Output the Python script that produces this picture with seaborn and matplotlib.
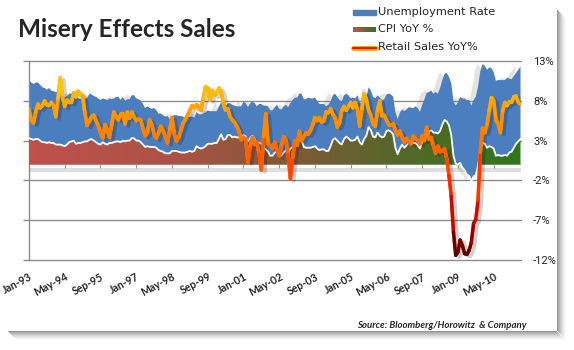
import matplotlib
matplotlib.use("Agg")
import matplotlib.pyplot as plt
import matplotlib.patheffects as pe
from matplotlib.collections import LineCollection
from matplotlib.colors import LinearSegmentedColormap
from matplotlib.lines import Line2D
from matplotlib.patches import Rectangle
import seaborn as sns
import numpy as np
import pandas as pd

# monthly values, Jan-93 .. May-11
unemployment = [
    7.3, 7.1, 7.0, 7.1, 7.1, 7.0, 6.9, 6.8, 6.7, 6.8, 6.6, 6.5,
    6.6, 6.6, 6.5, 6.4, 6.1, 6.1, 6.1, 6.0, 5.9, 5.8, 5.6, 5.5,
    5.6, 5.4, 5.4, 5.8, 5.6, 5.6, 5.7, 5.7, 5.6, 5.5, 5.6, 5.6,
    5.6, 5.5, 5.5, 5.6, 5.6, 5.3, 5.5, 5.1, 5.2, 5.2, 5.4, 5.4,
    5.3, 5.2, 5.2, 5.1, 4.9, 5.0, 4.9, 4.8, 4.9, 4.7, 4.6, 4.7,
    4.6, 4.6, 4.7, 4.3, 4.4, 4.5, 4.5, 4.5, 4.6, 4.5, 4.4, 4.4,
    4.3, 4.4, 4.2, 4.3, 4.2, 4.3, 4.3, 4.2, 4.2, 4.1, 4.1, 4.0,
    4.0, 4.1, 4.0, 3.8, 4.0, 4.0, 4.0, 4.1, 3.9, 3.9, 3.9, 3.9,
    4.2, 4.2, 4.3, 4.4, 4.3, 4.5, 4.6, 4.9, 5.0, 5.3, 5.5, 5.7,
    5.7, 5.7, 5.7, 5.9, 5.8, 5.8, 5.8, 5.7, 5.7, 5.7, 5.9, 6.0,
    5.8, 5.9, 5.9, 6.0, 6.1, 6.3, 6.2, 6.1, 6.1, 6.0, 5.8, 5.7,
    5.7, 5.6, 5.8, 5.6, 5.6, 5.6, 5.5, 5.4, 5.4, 5.5, 5.4, 5.4,
    5.3, 5.4, 5.2, 5.2, 5.1, 5.0, 5.0, 4.9, 5.0, 5.0, 5.0, 4.9,
    4.7, 4.8, 4.7, 4.7, 4.6, 4.6, 4.7, 4.7, 4.5, 4.4, 4.5, 4.4,
    4.6, 4.5, 4.4, 4.5, 4.4, 4.6, 4.7, 4.6, 4.7, 4.7, 4.7, 5.0,
    5.0, 4.9, 5.1, 5.0, 5.4, 5.6, 5.8, 6.1, 6.1, 6.5, 6.8, 7.3,
    7.8, 8.3, 8.7, 9.0, 9.4, 9.5, 9.5, 9.6, 9.8, 10.0, 9.9, 9.9,
    9.8, 9.8, 9.9, 9.9, 9.6, 9.4, 9.4, 9.5, 9.5, 9.4, 9.8, 9.3,
    9.1, 9.0, 8.9, 9.0, 9.1,
]
cpi_yoy = [
    3.3, 3.2, 3.1, 3.2, 3.2, 3.0, 2.8, 2.8, 2.7, 2.8, 2.7, 2.7,
    2.5, 2.5, 2.5, 2.4, 2.3, 2.5, 2.8, 2.9, 3.0, 2.6, 2.7, 2.7,
    2.8, 2.9, 2.9, 3.1, 3.2, 3.0, 2.8, 2.6, 2.5, 2.8, 2.6, 2.5,
    2.7, 2.7, 2.8, 2.9, 2.9, 2.8, 3.0, 2.9, 3.0, 3.0, 3.3, 3.3,
    3.0, 3.0, 2.8, 2.5, 2.2, 2.3, 2.2, 2.2, 2.2, 2.1, 1.8, 1.7,
    1.6, 1.4, 1.4, 1.4, 1.7, 1.7, 1.7, 1.6, 1.5, 1.5, 1.5, 1.6,
    1.7, 1.6, 1.7, 2.3, 2.1, 2.0, 2.1, 2.3, 2.6, 2.6, 2.6, 2.7,
    2.7, 3.2, 3.8, 3.1, 3.2, 3.7, 3.7, 3.4, 3.5, 3.4, 3.4, 3.4,
    3.7, 3.5, 2.9, 3.3, 3.6, 3.2, 2.7, 2.7, 2.6, 2.1, 1.9, 1.6,
    1.1, 1.1, 1.5, 1.6, 1.2, 1.1, 1.5, 1.8, 1.5, 2.0, 2.2, 2.4,
    2.6, 3.0, 3.0, 2.2, 2.1, 2.1, 2.1, 2.2, 2.3, 2.0, 1.8, 1.9,
    1.9, 1.7, 1.7, 2.3, 3.1, 3.3, 3.0, 2.7, 2.5, 3.2, 3.5, 3.3,
    3.0, 3.0, 3.1, 3.5, 2.8, 2.5, 3.2, 3.6, 4.7, 4.3, 3.5, 3.4,
    4.0, 3.6, 3.4, 3.5, 4.2, 4.3, 4.1, 3.8, 2.1, 1.3, 2.0, 2.5,
    2.1, 2.4, 2.8, 2.6, 2.7, 2.7, 2.4, 2.0, 2.8, 3.5, 4.3, 4.1,
    4.3, 4.0, 4.0, 3.9, 4.2, 5.0, 5.6, 5.4, 4.9, 3.7, 1.1, 0.1,
    0.0, 0.2, -0.4, -0.7, -1.3, -1.4, -2.1, -1.5, -1.3, -0.2, 1.8, 2.7,
    2.6, 2.1, 2.3, 2.2, 2.0, 1.1, 1.2, 1.1, 1.1, 1.2, 1.1, 1.5,
    1.6, 2.1, 2.6, 2.9, 3.2,
]
retail_yoy = [
    7.0, 5.6, 5.2, 6.6, 7.6, 7.1, 7.4, 8.0, 7.5, 7.5, 7.8, 7.4,
    6.0, 8.3, 10.9, 8.4, 7.3, 8.1, 7.8, 7.8, 9.0, 8.5, 9.2, 8.8,
    8.6, 6.5, 4.9, 5.4, 6.0, 6.2, 5.5, 4.9, 4.0, 3.3, 5.0, 4.4,
    3.4, 5.0, 6.6, 6.0, 5.6, 6.3, 6.4, 5.1, 6.6, 5.8, 6.6, 6.0,
    5.5, 5.7, 5.6, 4.5, 3.6, 4.0, 5.6, 5.0, 3.8, 3.3, 4.0, 4.8,
    4.3, 3.5, 2.7, 4.4, 5.9, 3.9, 2.9, 3.4, 4.3, 5.2, 5.7, 6.2,
    6.8, 7.4, 7.1, 7.5, 7.2, 6.8, 8.3, 9.8, 9.6, 8.1, 9.3, 8.7,
    9.0, 9.6, 9.1, 7.7, 6.8, 7.0, 6.0, 5.6, 5.3, 4.8, 4.2, 3.1,
    3.4, 3.2, 0.3, 2.3, 3.4, 2.5, 2.8, 1.3, -0.7, 3.5, 6.4, 2.6,
    2.4, 2.0, 2.8, 1.8, 1.1, 2.4, 3.5, 3.1, 1.2, -1.8, 0.9, 3.0,
    2.4, 4.2, 3.0, 3.5, 4.0, 3.8, 4.3, 5.0, 5.9, 5.5, 5.9, 5.3,
    5.5, 6.6, 6.5, 7.0, 6.3, 5.9, 4.7, 5.2, 6.8, 7.3, 6.8, 7.3,
    7.8, 7.1, 7.8, 6.9, 4.8, 7.0, 8.9, 8.2, 6.8, 6.2, 5.1, 4.8,
    6.8, 8.0, 6.1, 6.2, 5.6, 5.0, 4.9, 5.1, 4.3, 3.7, 4.2, 3.4,
    2.8, 3.3, 2.8, 2.6, 3.6, 3.3, 3.0, 2.6, 3.6, 3.0, 4.7, 3.2,
    3.4, 2.4, 1.4, 2.3, 1.6, 1.7, 2.0, 0.7, -1.4, -4.0, -8.5, -11.4,
    -11.0, -9.5, -10.2, -11.2, -11.3, -10.8, -9.8, -7.4, -6.9, -4.5, 1.5, 4.6,
    4.0, 5.0, 6.8, 8.4, 8.0, 5.6, 5.1, 4.0, 6.7, 7.8, 7.4, 7.9,
    7.8, 8.5, 8.6, 7.8, 7.6,
]

tick_labels = ["Jan-93", "May-94", "Sep-95", "Jan-97", "May-98", "Sep-99", "Jan-01",
               "May-02", "Sep-03", "Jan-05", "May-06", "Sep-07", "Jan-09", "May-10"]
y_ticks = [13, 8, 3, -2, -7, -12]
legend_labels = ["Unemployment Rate", "CPI YoY %", "Retail Sales YoY%"]

df = pd.DataFrame({"unemp": unemployment, "cpi": cpi_yoy, "retail": retail_yoy})
df["month"] = np.arange(len(df))
df["stack"] = df["cpi"] + df["unemp"]

sns.set_style("white")
plt.rcParams["font.family"] = ["DejaVu Sans"]

W, H = 574, 350
fig = plt.figure(figsize=(W / 100, H / 100), dpi=100)
ax = fig.add_axes([29 / W, 1 - 260 / H, 491.5 / W, 199 / H])

blue = "#4a7ebf"
grid_c = "#8c8c8c"
cpi_cmap = LinearSegmentedColormap.from_list("cpi", [
    (0.0, "#c0504d"), (0.3, "#a95345"), (0.5, "#875837"),
    (0.7, "#5f642d"), (0.85, "#466e23"), (1.0, "#30781c")])
retail_cmap = LinearSegmentedColormap.from_list("retail", [
    (0.0, "#500000"), (2 / 24, "#700000"), (5 / 24, "#c00000"), (9 / 24, "#ff2000"),
    (12 / 24, "#ff4800"), (15 / 24, "#ff7400"), (18 / 24, "#ff9400"),
    (20 / 24, "#ffac00"), (22 / 24, "#ffcc00"), (1.0, "#ffe030")])

# floor of the area
tick_pos = np.arange(0, len(df), 16)
ax.axhline(0, color="#b4b4b4", lw=0.8, zorder=1)
ax.fill_between(df["month"], -1.0, -0.5, color="#dedede", lw=0, zorder=1)
ax.vlines(tick_pos, -0.5, 0, color="#9a9a9a", lw=0.8, zorder=1)

# unemployment stacked on top of cpi
ax.fill_between(df["month"], df["cpi"], df["stack"], color=blue, lw=0, zorder=2,
                path_effects=[pe.SimplePatchShadow(offset=(-4, 0), shadow_rgbFace="#808080", alpha=0.22),
                              pe.Normal()])

# cpi area with left-to-right gradient
cpi_poly = ax.fill_between(df["month"], 0, df["cpi"].clip(lower=0), color="none", lw=0)
img = ax.imshow(np.linspace(0, 1, 256)[None, :], cmap=cpi_cmap, aspect="auto",
                extent=(0, df["month"].iloc[-1], -12, 13), zorder=3)
img.set_clip_path(cpi_poly.get_paths()[0], ax.transData)
sns.lineplot(data=df, x="month", y="cpi", ax=ax, color="white", lw=1.3, zorder=4)

# retail sales line, value-coloured
sns.lineplot(data=df, x="month", y="retail", ax=ax, color="#ff8c00", lw=2.5, zorder=5,
             path_effects=[pe.SimpleLineShadow(offset=(2.5, -1.5), shadow_color="k", alpha=0.18),
                           pe.Normal()])
pts = df[["month", "retail"]].to_numpy(dtype=float)
segs = np.stack([pts[:-1], pts[1:]], axis=1)
lc = LineCollection(segs, cmap=retail_cmap, norm=plt.Normalize(-12, 12), lw=2.5,
                    zorder=6, capstyle="round")
lc.set_array((pts[:-1, 1] + pts[1:, 1]) / 2)
ax.add_collection(lc)

ax.set_xlim(0, df["month"].iloc[-1])
ax.set_ylim(-12, 13)
ax.set_xlabel("")
ax.set_ylabel("")
ax.set_yticks(y_ticks)
ax.set_yticklabels([f"{v}%" for v in y_ticks], family="Roboto", fontsize=8)
ax.set_xticks(tick_pos)
ax.set_xticklabels(tick_labels, rotation=28, ha="right", va="top", rotation_mode="anchor",
                   fontsize=7.6, fontweight="bold", family="Lato")
ax.grid(axis="y", color=grid_c, lw=1)
ax.grid(axis="x", visible=False)
ax.set_axisbelow(True)
for line in ax.get_ygridlines():
    line.set_clip_on(False)
for s in ["top", "right", "bottom"]:
    ax.spines[s].set_visible(False)
ax.spines["left"].set_color(grid_c)
ax.spines["left"].set_linewidth(1)
ax.tick_params(axis="y", left=True, right=False, labelleft=False, labelright=True,
               length=4, width=1, color=grid_c, pad=5)
ax.tick_params(axis="x", length=0, pad=8)

# title
fig.text(18 / W, 1 - 37 / H, "Misery Effects Sales", fontsize=17.5, fontweight="bold",
         family="Lato", va="baseline")

# legend
fig.patches.append(Rectangle((353 / W, 1 - 15 / H), 23 / W, 5.5 / H,
                             transform=fig.transFigure, color=blue))
sw = fig.add_axes([353 / W, 1 - 32.5 / H, 23 / W, 5.5 / H])
sw.imshow(np.linspace(0, 1, 64)[None, :], cmap=cpi_cmap, aspect="auto")
sw.axis("off")
fig.lines.append(Line2D([353 / W, 376 / W], [1 - 47.5 / H] * 2, transform=fig.transFigure,
                        color="#e81800", lw=1.6,
                        path_effects=[pe.Stroke(linewidth=3.4, foreground="#ffa800"), pe.Normal()]))
for y, s in zip([12, 29.5, 47.5], legend_labels):
    fig.text(378 / W, 1 - y / H, s, va="center", fontsize=8.2)

fig.text(527 / W, 1 - 325 / H, "Source: Bloomberg/Horowitz  & Company", ha="right",
         va="center", fontsize=6.9, fontweight="bold", style="italic", family="Lato")

# card drop shadow
R, B = 557, 331
for i in range(9):
    a = 0.4 * (1 - i / 9) ** 1.5
    fig.patches.append(Rectangle(((R + i) / W, 1 - (B + i) / H), 1 / W, (B - 10) / H,
                                 transform=fig.transFigure, color="k", alpha=a, lw=0))
    fig.patches.append(Rectangle(((8 + i) / W, 1 - (B + i + 1) / H), (R - 8) / W, 1 / H,
                                 transform=fig.transFigure, color="k", alpha=a, lw=0))

fig.savefig("out.png", dpi=100)
